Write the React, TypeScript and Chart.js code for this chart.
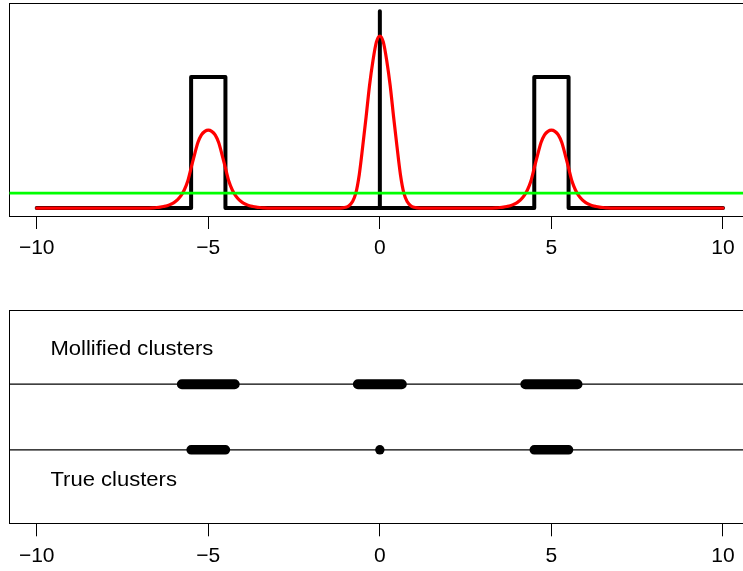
import React, { useEffect, useRef } from 'react';
import { Chart, registerables } from 'chart.js';

Chart.register(...registerables);

// ---------- shared x axis ----------
const xLimits = [-10.8, 10.8];
const xTickValues = [-10, -5, 0, 5, 10];
const xTickLabels = ['\u221210', '\u22125', '0', '5', '10'];

// ---------- top panel: densities ----------
const densityLimits = [-0.02, 0.52];
const trueDensityX = [-10, -5.5, -5.5, -4.5, -4.5, 0, 0, 0, 4.5, 4.5, 5.5, 5.5, 10];
const trueDensityY = [0, 0, 0.333, 0.333, 0, 0, 0.5, 0, 0, 0.333, 0.333, 0, 0];

const mollifiedX = [
  -10, -6.8, -6.6, -6.5, -6.4, -6.3, -6.2, -6.1, -6.0, -5.9, -5.8, -5.7, -5.6, -5.5, -5.4, -5.3, -5.2, -5.1,
  -5.0, -4.9, -4.8, -4.7, -4.6, -4.5, -4.4, -4.3, -4.2, -4.1, -4.0, -3.9, -3.8, -3.7, -3.6, -3.5, -3.4, -3.2,
  -1.2, -1.1, -1.0, -0.9, -0.8, -0.7, -0.6, -0.5, -0.4, -0.3, -0.2, -0.1,
  0, 0.1, 0.2, 0.3, 0.4, 0.5, 0.6, 0.7, 0.8, 0.9, 1.0, 1.1, 1.2,
  3.2, 3.4, 3.5, 3.6, 3.7, 3.8, 3.9, 4.0, 4.1, 4.2, 4.3, 4.4, 4.5, 4.6, 4.7, 4.8, 4.9,
  5.0, 5.1, 5.2, 5.3, 5.4, 5.5, 5.6, 5.7, 5.8, 5.9, 6.0, 6.1, 6.2, 6.3, 6.4, 6.5, 6.6, 6.8, 10,
];
const mollifiedY = [
  0, 0, 0.0008, 0.0015, 0.0025, 0.004, 0.006, 0.0095, 0.014, 0.021, 0.031, 0.046, 0.068, 0.102, 0.136, 0.167, 0.186, 0.195,
  0.198, 0.195, 0.186, 0.167, 0.136, 0.102, 0.068, 0.046, 0.031, 0.021, 0.014, 0.0095, 0.006, 0.004, 0.0025, 0.0015, 0.0008, 0,
  0, 0.0006, 0.002, 0.006, 0.016, 0.038, 0.085, 0.156, 0.232, 0.312, 0.375, 0.422,
  0.437, 0.422, 0.375, 0.312, 0.232, 0.156, 0.085, 0.038, 0.016, 0.006, 0.002, 0.0006, 0,
  0, 0.0008, 0.0015, 0.0025, 0.004, 0.006, 0.0095, 0.014, 0.021, 0.031, 0.046, 0.068, 0.102, 0.136, 0.167, 0.186, 0.195,
  0.198, 0.195, 0.186, 0.167, 0.136, 0.102, 0.068, 0.046, 0.031, 0.021, 0.014, 0.0095, 0.006, 0.004, 0.0025, 0.0015, 0.0008, 0, 0,
];
const thresholdLevel = 0.038;

// ---------- bottom panel: clusters ----------
const rowLimits = [-0.12, 3.12];
const mollifiedRow = 2;
const trueRow = 1;
const mollifiedStart = [-5.77, -0.64, 4.24];
const mollifiedEnd = [-4.23, 0.64, 5.76];
const trueStart = [-5.5, 0, 4.5];
const trueEnd = [-4.5, 0, 5.5];
const rowLabels = ['Mollified clusters', 'True clusters'];
const rowLabelY = [2.5, 0.5];
const rowLabelX = -9.6;

const FONT = '"Liberation Sans", Arial, Helvetica, sans-serif';
const CANVAS_W = 800;

function zip(xs: number[], ys: number[]) {
  return xs.map((x, i) => ({ x, y: ys[i] }));
}

function segmentData(starts: number[], ends: number[], level: number) {
  const out: { x: number; y: number | null }[] = [];
  starts.forEach((s, i) => {
    if (s === ends[i]) return;
    if (out.length) out.push({ x: (out[out.length - 1].x + s) / 2, y: null });
    out.push({ x: s, y: level });
    out.push({ x: ends[i], y: level });
  });
  return out;
}

function atomData(starts: number[], ends: number[], level: number) {
  return starts.filter((s, i) => s === ends[i]).map((s) => ({ x: s, y: level }));
}

const frameAxis = (position: string, limits: number[]) => ({
  type: 'linear',
  position,
  min: limits[0],
  max: limits[1],
  grid: { display: false, drawTicks: false, tickLength: 0 },
  ticks: { display: false },
  border: { display: true, color: '#000', width: 1 },
});

function makeScales(yLimits: number[]) {
  return {
    x: {
      type: 'linear',
      position: 'bottom',
      min: xLimits[0],
      max: xLimits[1],
      afterBuildTicks: (scale: any) => {
        scale.ticks = xTickValues.map((v) => ({ value: v }));
      },
      grid: { display: true, drawOnChartArea: false, drawTicks: true, tickLength: 13, color: '#000', lineWidth: 1 },
      border: { display: true, color: '#000', width: 1 },
      ticks: {
        autoSkip: false,
        maxRotation: 0,
        minRotation: 0,
        padding: 7,
        color: '#000',
        font: { family: FONT, size: 21 },
        callback: (v: number) => {
          const i = xTickValues.indexOf(v);
          return i >= 0 ? xTickLabels[i] : '';
        },
      },
    },
    xTop: frameAxis('top', xLimits),
    y: frameAxis('left', yLimits),
    yRight: frameAxis('right', yLimits),
  };
}

const rowLabelPlugin = {
  id: 'rowLabels',
  afterDatasetsDraw(chart: any) {
    const { ctx } = chart;
    const x = chart.scales.x;
    const y = chart.scales.y;
    ctx.save();
    ctx.fillStyle = '#000';
    ctx.font = `19.5px ${FONT}`;
    ctx.textBaseline = 'middle';
    ctx.textAlign = 'left';
    rowLabels.forEach((t, i) => {
      const px = x.getPixelForValue(rowLabelX);
      const py = y.getPixelForValue(rowLabelY[i]) - 1.5;
      ctx.save();
      ctx.translate(px, py);
      ctx.scale(1.13, 1);
      ctx.fillText(t, 0, 0);
      ctx.restore();
    });
    ctx.restore();
  },
};

const baseOptions = {
  animation: false,
  responsive: false,
  maintainAspectRatio: false,
  events: [],
  plugins: { legend: { display: false }, tooltip: { enabled: false } },
};

export default function App() {
  const topRef = useRef<HTMLCanvasElement>(null);
  const bottomRef = useRef<HTMLCanvasElement>(null);

  useEffect(() => {
    const top = new Chart(topRef.current as HTMLCanvasElement, {
      type: 'line',
      data: {
        datasets: [
          {
            label: 'threshold',
            data: [
              { x: xLimits[0], y: thresholdLevel },
              { x: xLimits[1], y: thresholdLevel },
            ],
            borderColor: '#00ff00',
            borderWidth: 2.7,
            pointRadius: 0,
            borderCapStyle: 'butt',
            order: 0,
          },
          {
            label: 'mollified density',
            data: zip(mollifiedX, mollifiedY),
            borderColor: '#ff0000',
            borderWidth: 3.2,
            pointRadius: 0,
            cubicInterpolationMode: 'monotone',
            borderCapStyle: 'round',
            borderJoinStyle: 'round',
            order: 1,
          },
          {
            label: 'true density',
            data: zip(trueDensityX, trueDensityY),
            borderColor: '#000',
            borderWidth: 4,
            pointRadius: 0,
            tension: 0,
            borderCapStyle: 'round',
            borderJoinStyle: 'round',
            order: 2,
          },
        ],
      },
      options: {
        ...baseOptions,
        layout: { autoPadding: false, padding: { left: 9.25, right: CANVAS_W - 750.45, top: 3.3, bottom: 21.8 } },
        scales: makeScales(densityLimits),
      } as any,
    } as any);

    const bottom = new Chart(bottomRef.current as HTMLCanvasElement, {
      type: 'line',
      data: {
        datasets: [
          {
            label: 'true atoms',
            data: atomData(trueStart, trueEnd, trueRow),
            showLine: false,
            pointRadius: 4.7,
            pointBorderWidth: 0,
            pointBackgroundColor: '#000',
            pointBorderColor: '#000',
            order: 0,
          },
          {
            label: 'mollified clusters',
            data: segmentData(mollifiedStart, mollifiedEnd, mollifiedRow),
            borderColor: '#000',
            borderWidth: 10,
            pointRadius: 0,
            spanGaps: false,
            borderCapStyle: 'round',
            order: 1,
          },
          {
            label: 'true clusters',
            data: segmentData(trueStart, trueEnd, trueRow),
            borderColor: '#000',
            borderWidth: 9.5,
            pointRadius: 0,
            spanGaps: false,
            borderCapStyle: 'round',
            order: 1,
          },
          {
            label: 'mollified row',
            data: [
              { x: xLimits[0], y: mollifiedRow },
              { x: xLimits[1], y: mollifiedRow },
            ],
            borderColor: '#000',
            borderWidth: 1.2,
            pointRadius: 0,
            order: 3,
          },
          {
            label: 'true row',
            data: [
              { x: xLimits[0], y: trueRow },
              { x: xLimits[1], y: trueRow },
            ],
            borderColor: '#000',
            borderWidth: 1.2,
            pointRadius: 0,
            order: 3,
          },
        ],
      },
      options: {
        ...baseOptions,
        layout: { autoPadding: false, padding: { left: 9.25, right: CANVAS_W - 750.45, top: 20.7, bottom: 14.5 } },
        scales: makeScales(rowLimits),
      } as any,
      plugins: [rowLabelPlugin],
    } as any);

    return () => {
      top.destroy();
      bottom.destroy();
    };
  }, []);

  return (
    <div
      style={{
        position: 'fixed',
        left: 0,
        top: 0,
        width: 743,
        height: 571,
        overflow: 'hidden',
        background: '#fff',
      }}
    >
      <canvas
        ref={topRef}
        width={CANVAS_W}
        height={290}
        style={{ position: 'absolute', left: 0, top: 0, display: 'block' }}
      />
      <canvas
        ref={bottomRef}
        width={CANVAS_W}
        height={300}
        style={{ position: 'absolute', left: 0, top: 290, display: 'block' }}
      />
    </div>
  );
}
